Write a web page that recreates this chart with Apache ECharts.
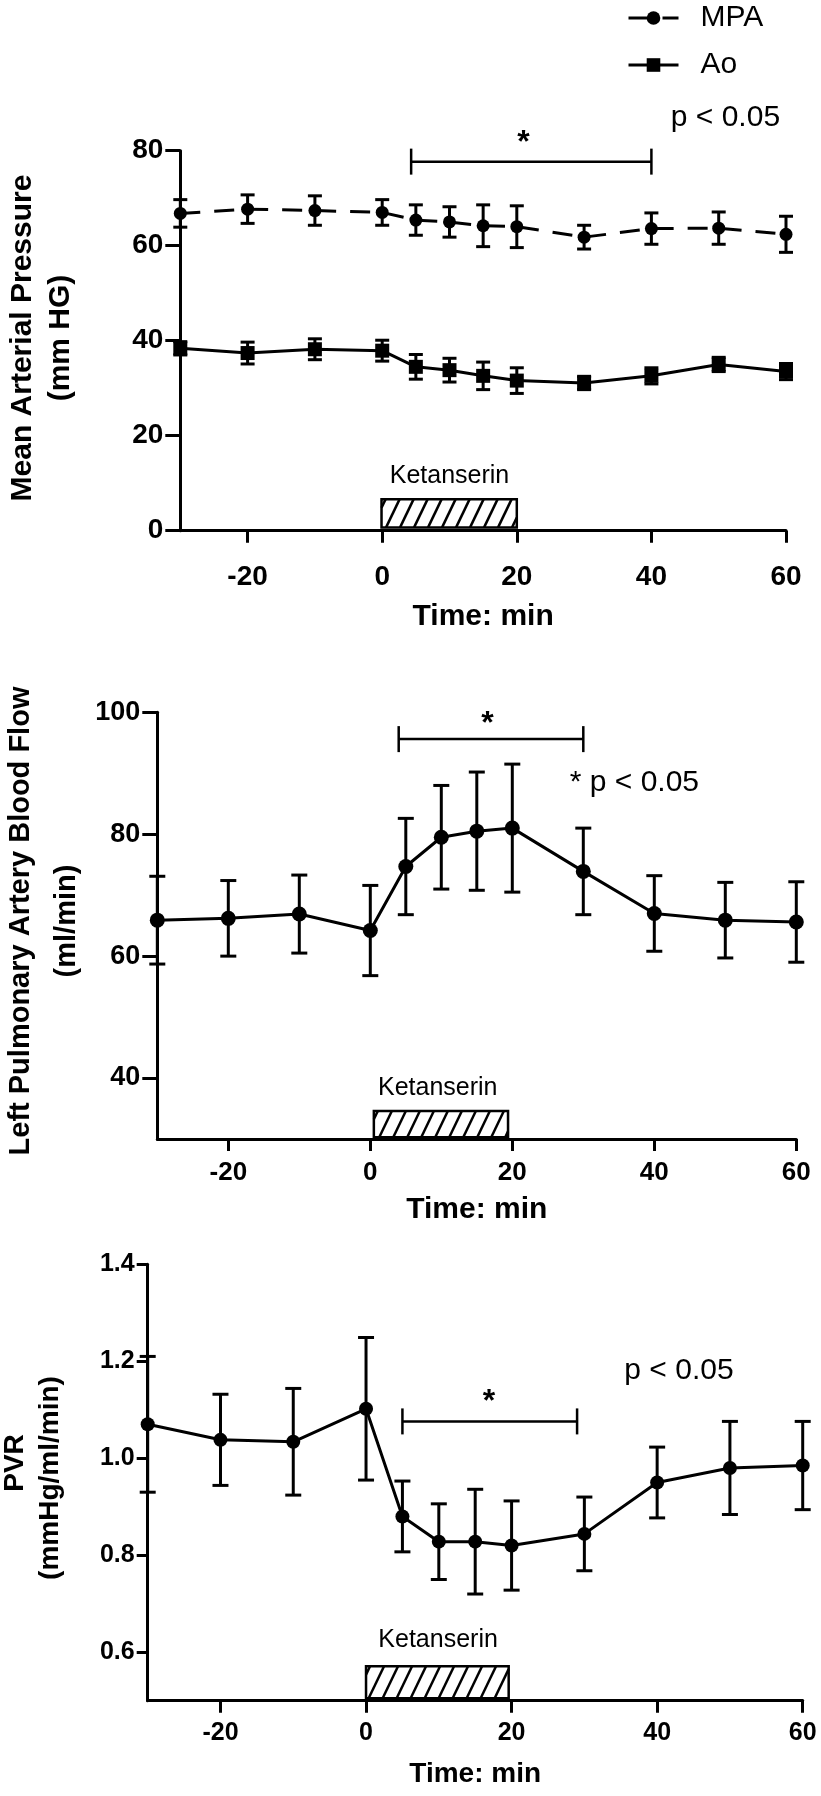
<!DOCTYPE html>
<html><head><meta charset="utf-8">
<script src="https://cdn.jsdelivr.net/npm/echarts@6/dist/echarts.min.js"></script>
<style>html,body{margin:0;padding:0;background:#fff}#c{width:821px;height:1796px}</style>
</head><body><div id="c"></div><script>
// ---- data ----
const timeMin = [-30, -20, -10, 0, 5, 10, 15, 20, 30, 40, 50, 60];
const xTicks = [-20, 0, 20, 40, 60];

const mpaMean = [66.8, 67.7, 67.4, 67.0, 65.4, 65.0, 64.2, 64.0, 61.8, 63.6, 63.7, 62.4];
const mpaSem  = [2.9, 3.0, 3.1, 2.7, 3.2, 3.2, 4.4, 4.4, 2.5, 3.3, 3.4, 3.8];
const aoMean  = [38.4, 37.4, 38.2, 37.9, 34.5, 33.8, 32.6, 31.6, 31.1, 32.6, 35.0, 33.5];
const aoSem   = [1.4, 2.3, 2.2, 2.2, 2.6, 2.5, 2.9, 2.7, 1.4, 1.7, 1.5, 1.7];
const p1YTicks = [0, 20, 40, 60, 80];

const lpaFlow = [65.9, 66.2, 66.9, 64.2, 74.7, 79.5, 80.5, 81.0, 73.9, 67.0, 65.9, 65.6];
const lpaSem  = [7.2, 6.2, 6.4, 7.4, 7.9, 8.5, 9.7, 10.5, 7.1, 6.2, 6.2, 6.6];
const p2YTicks = [40, 60, 80, 100];

const pvrMean = [1.070, 1.038, 1.034, 1.102, 0.880, 0.828, 0.828, 0.820, 0.844, 0.950, 0.980, 0.985];
const pvrSem  = [0.140, 0.094, 0.110, 0.147, 0.073, 0.078, 0.108, 0.092, 0.076, 0.073, 0.096, 0.091];
const p3YTicks = [0.6, 0.8, 1.0, 1.2, 1.4];

// significance brackets [xStart, xEnd, y]
const p1Bracket = [4.3, 40, 77.7];
const p2Bracket = [4, 30, 95.6];
const p3Bracket = [5, 29, 1.076];

// Ketanserin infusion boxes [xStart, xEnd, yBottom, yTop]
const p1Box = [-0.1, 20, 0.7, 6.6];
const p2Box = [0.5, 19.4, 30.3, 34.6];
const p3Box = [0, 19.6, 0.505, 0.571];

// annotation texts
const p1NoteText = ['*', 'p < 0.05', 'Ketanserin'];
const p1NoteX = [21, 51, 10];
const p1NoteY = [81.5, 87, 11.5];
const p2NoteText = ['*', '* p < 0.05', 'Ketanserin'];
const p2NoteX = [16.5, 37.2, 9.5];
const p2NoteY = [98.0, 88.5, 38.3];
const p3NoteText = ['*', 'p < 0.05', 'Ketanserin'];
const p3NoteX = [16.9, 43, 9.9];
const p3NoteY = [1.115, 1.18, 0.625];

// y-axis titles (two lines each)
const p1YTitle = ['Mean Arterial Pressure', '(mm HG)'];
const p2YTitle = ['Left Pulmonary Artery Blood Flow', '(ml/min)'];
const p3YTitle = ['PVR', '(mmHg/ml/min)'];

// ---- styles ----
const FONT = '"Liberation Sans", Arial, Helvetica, sans-serif';
const BLACK = '#000';

function errorBars(idx, xs, ys, es, capHalf) {
  return {
    type: 'custom', xAxisIndex: idx, yAxisIndex: idx, z: 2, silent: true,
    data: xs.map((x, i) => [x, ys[i], es[i]]),
    encode: { x: 0, y: 1 },
    renderItem(params, api) {
      const x = api.value(0), y = api.value(1), e = api.value(2);
      const hi = api.coord([x, y + e]), lo = api.coord([x, y - e]);
      const st = { stroke: BLACK, lineWidth: 3 };
      return { type: 'group', children: [
        { type: 'line', shape: { x1: hi[0], y1: hi[1], x2: lo[0], y2: lo[1] }, style: st },
        { type: 'line', shape: { x1: hi[0] - capHalf, y1: hi[1], x2: hi[0] + capHalf, y2: hi[1] }, style: st },
        { type: 'line', shape: { x1: lo[0] - capHalf, y1: lo[1], x2: lo[0] + capHalf, y2: lo[1] }, style: st }
      ]};
    }
  };
}

function bracket(idx, b) {
  return {
    type: 'custom', xAxisIndex: idx, yAxisIndex: idx, silent: true, z: 3,
    data: [b], encode: { x: [0, 1], y: 2 },
    renderItem(params, api) {
      const a = api.coord([api.value(0), api.value(2)]);
      const c = api.coord([api.value(1), api.value(2)]);
      const st = { stroke: BLACK, lineWidth: 2.5 };
      const h = 13;
      return { type: 'group', children: [
        { type: 'line', shape: { x1: a[0], y1: a[1], x2: c[0], y2: c[1] }, style: st },
        { type: 'line', shape: { x1: a[0], y1: a[1] - h, x2: a[0], y2: a[1] + h }, style: st },
        { type: 'line', shape: { x1: c[0], y1: c[1] - h, x2: c[0], y2: c[1] + h }, style: st }
      ]};
    }
  };
}

function hatchBox(idx, b) {
  return {
    type: 'custom', xAxisIndex: idx, yAxisIndex: idx, silent: true, z: 3,
    data: [b], encode: { x: [0, 1], y: [2, 3] },
    renderItem(params, api) {
      const p0 = api.coord([api.value(0), api.value(2)]);
      const p1 = api.coord([api.value(1), api.value(3)]);
      const L = p0[0], R = p1[0], B = p0[1], T = p1[1];
      const H = B - T, dx = H * 0.48, step = 14;
      const kids = [];
      for (let t = L - dx + 4; t < R; t += step) {
        const u0 = Math.max(0, (L - t) / dx), u1 = Math.min(1, (R - t) / dx);
        if (u1 <= u0) continue;
        kids.push({ type: 'line', shape: {
          x1: t + u0 * dx, y1: B - u0 * H, x2: t + u1 * dx, y2: B - u1 * H
        }, style: { stroke: BLACK, lineWidth: 2.5 } });
      }
      kids.push({ type: 'rect', shape: { x: L, y: T, width: R - L, height: H },
        style: { fill: 'none', stroke: BLACK, lineWidth: 2.5 } });
      return { type: 'group', children: kids };
    }
  };
}

function notes(idx, xs, ys, texts) {
  return {
    type: 'custom', xAxisIndex: idx, yAxisIndex: idx, silent: true, z: 4,
    data: xs.map((x, i) => [x, ys[i]]), encode: { x: 0, y: 1 },
    renderItem(params, api) {
      const p = api.coord([api.value(0), api.value(1)]);
      const txt = texts[params.dataIndex];
      let size = 30, weight = 'normal';
      if (txt === '*') { size = 32; weight = 'bold'; }
      if (txt === 'Ketanserin') { size = 25; }
      return { type: 'text', x: p[0], y: p[1], style: {
        text: txt, fill: BLACK, fontSize: size, fontWeight: weight, fontFamily: FONT,
        align: 'center', verticalAlign: 'middle'
      }};
    }
  };
}

function xAxisCfg(idx, labelSize, margin, nameSize, nameGap) {
  return {
    gridIndex: idx, type: 'value', min: -30, max: 60,
    axisLine: { show: true, onZero: false, lineStyle: { color: BLACK, width: 3 } },
    axisTick: { show: true, length: 12, customValues: xTicks, lineStyle: { color: BLACK, width: 3 } },
    axisLabel: { customValues: xTicks, color: BLACK, fontSize: labelSize, fontWeight: 'bold', fontFamily: FONT, margin: margin },
    splitLine: { show: false },
    name: 'Time: min', nameLocation: 'middle', nameGap: nameGap,
    nameTextStyle: { color: BLACK, fontSize: nameSize, fontWeight: 'bold', fontFamily: FONT }
  };
}

function yAxisCfg(idx, min, max, ticks, labelSize, margin, tickLen, fmt) {
  return {
    gridIndex: idx, type: 'value', min: min, max: max,
    axisLine: { show: true, onZero: false, lineStyle: { color: BLACK, width: 3 } },
    axisTick: { show: true, length: tickLen, customValues: ticks, lineStyle: { color: BLACK, width: 3 } },
    axisLabel: { customValues: ticks, color: BLACK, fontSize: labelSize, fontWeight: 'bold', fontFamily: FONT, margin: margin,
      formatter: fmt || (v => String(v)) },
    splitLine: { show: false }
  };
}

function yTitle(lines, xs, ys, size) {
  return lines.map((t, i) => ({
    type: 'text', x: xs[i], y: ys[i], rotation: Math.PI / 2,
    style: { text: t, fill: BLACK, fontSize: size, fontWeight: 'bold', fontFamily: FONT,
      align: 'center', verticalAlign: 'middle' }
  }));
}

const pairs = (xs, ys) => xs.map((x, i) => [x, ys[i]]);

const option = {
  animation: false,
  backgroundColor: '#fff',
  legend: {
    orient: 'vertical', left: 627, top: 3, padding: 0, itemWidth: 50, itemHeight: 17, itemGap: 17,
    data: ['MPA', 'Ao'], selectedMode: false,
    lineStyle: { width: 3 },
    textStyle: { color: BLACK, fontSize: 30, fontFamily: FONT, lineHeight: 30, padding: [0, 0, 0, 17] }
  },
  graphic: [].concat(
    yTitle(p1YTitle, [22.6, 61], [338, 338], 30),
    yTitle(p2YTitle, [21, 66.5], [921, 921], 29),
    yTitle(p3YTitle, [15, 50], [1463, 1478], 28)
  ),
  grid: [
    { left: 180.3, right: 35, top: 150.7, height: 380, containLabel: false },
    { left: 157.3, right: 24.7, top: 712.3, height: 426.7, containLabel: false },
    { left: 147.7, right: 18.3, top: 1264.3, height: 436.4, containLabel: false }
  ],
  xAxis: [
    xAxisCfg(0, 28, 33, 30, 71),
    xAxisCfg(1, 26, 21, 30, 56),
    xAxisCfg(2, 25, 20, 28, 60)
  ],
  yAxis: [
    yAxisCfg(0, 0, 80, p1YTicks, 28, 17, 15),
    yAxisCfg(1, 30, 100, p2YTicks, 27, 17, 15),
    yAxisCfg(2, 0.5, 1.4, p3YTicks, 25, 13, 11, v => v.toFixed(1))
  ],
  series: [
    errorBars(0, timeMin, mpaMean, mpaSem, 7),
    errorBars(0, timeMin, aoMean, aoSem, 7),
    { name: 'MPA', type: 'line', xAxisIndex: 0, yAxisIndex: 0, data: pairs(timeMin, mpaMean), z: 5,
      symbol: 'circle', symbolSize: 13, itemStyle: { color: BLACK },
      lineStyle: { color: BLACK, width: 3, type: [20, 14] } },
    { name: 'Ao', type: 'line', xAxisIndex: 0, yAxisIndex: 0, data: pairs(timeMin, aoMean), z: 5,
      symbol: 'rect', symbolSize: 14, itemStyle: { color: BLACK },
      lineStyle: { color: BLACK, width: 3 } },
    bracket(0, p1Bracket), hatchBox(0, p1Box), notes(0, p1NoteX, p1NoteY, p1NoteText),

    errorBars(1, timeMin, lpaFlow, lpaSem, 8),
    { name: 'LPA', type: 'line', xAxisIndex: 1, yAxisIndex: 1, data: pairs(timeMin, lpaFlow), z: 5,
      symbol: 'circle', symbolSize: 15, itemStyle: { color: BLACK },
      lineStyle: { color: BLACK, width: 3 } },
    bracket(1, p2Bracket), hatchBox(1, p2Box), notes(1, p2NoteX, p2NoteY, p2NoteText),

    errorBars(2, timeMin, pvrMean, pvrSem, 8),
    { name: 'PVR', type: 'line', xAxisIndex: 2, yAxisIndex: 2, data: pairs(timeMin, pvrMean), z: 5,
      symbol: 'circle', symbolSize: 14, itemStyle: { color: BLACK },
      lineStyle: { color: BLACK, width: 3 } },
    bracket(2, p3Bracket), hatchBox(2, p3Box), notes(2, p3NoteX, p3NoteY, p3NoteText)
  ]
};

const chart = echarts.init(document.getElementById('c'), null, { renderer: 'canvas' });
chart.setOption(option);
</script></body></html>
